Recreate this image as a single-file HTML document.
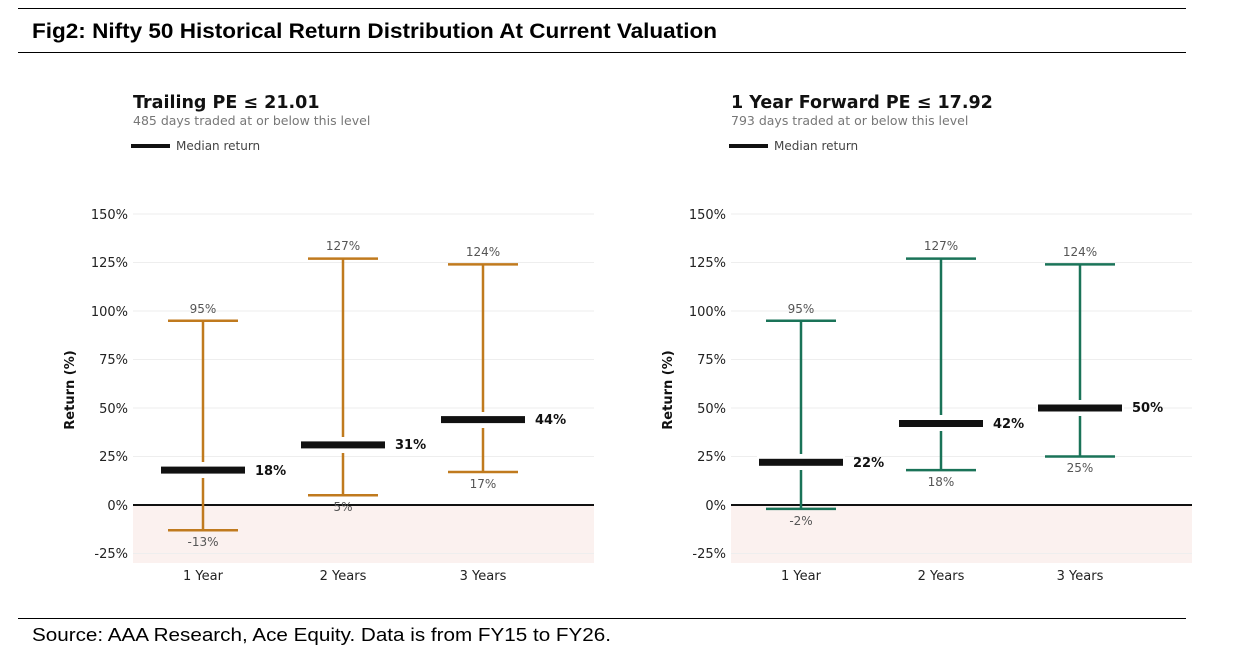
<!DOCTYPE html>
<html><head><meta charset="utf-8"><style>
html,body{margin:0;padding:0;background:#fff;}
svg{display:block;}
</style></head><body>
<svg width="1247" height="656" viewBox="0 0 1247 656" xmlns="http://www.w3.org/2000/svg">
<line x1="18" y1="8.5" x2="1186" y2="8.5" stroke="#000" stroke-width="1"/>
<line x1="18" y1="52.5" x2="1186" y2="52.5" stroke="#000" stroke-width="1"/>
<text x="32" y="38" font-family="Liberation Sans, sans-serif" font-weight="bold" font-size="21" fill="#000" textLength="685" lengthAdjust="spacingAndGlyphs">Fig2: Nifty 50 Historical Return Distribution At Current Valuation</text>
<line x1="18" y1="618.5" x2="1186" y2="618.5" stroke="#000" stroke-width="1"/>
<text x="32" y="641" font-family="Liberation Sans, sans-serif" font-size="18.5" fill="#000" textLength="579" lengthAdjust="spacingAndGlyphs">Source: AAA Research, Ace Equity. Data is from FY15 to FY26.</text>

<g font-family="DejaVu Sans, sans-serif">
<text x="133" y="108" font-size="17.5" font-weight="bold" fill="#111">Trailing PE ≤ 21.01</text>
<text x="133" y="125" font-size="12.5" fill="#777">485 days traded at or below this level</text>
<line x1="131" y1="146" x2="170" y2="146" stroke="#111" stroke-width="4"/>
<text x="176" y="150" font-size="12" fill="#444">Median return</text>
<rect x="133" y="505" width="461" height="58" fill="#fbf1ef"/>
<g stroke="#eeeeee" stroke-width="1">
<line x1="133" x2="594" y1="214" y2="214"/><line x1="133" x2="594" y1="262.5" y2="262.5"/>
<line x1="133" x2="594" y1="311" y2="311"/><line x1="133" x2="594" y1="359.5" y2="359.5"/>
<line x1="133" x2="594" y1="408" y2="408"/><line x1="133" x2="594" y1="456.5" y2="456.5"/>
<line x1="133" x2="594" y1="553.5" y2="553.5"/></g>
<line x1="133" x2="594" y1="505" y2="505" stroke="#111" stroke-width="2"/>
<g font-size="13" fill="#222" text-anchor="end">
<text x="128" y="219">150%</text><text x="128" y="267">125%</text><text x="128" y="316">100%</text>
<text x="128" y="364">75%</text><text x="128" y="413">50%</text><text x="128" y="461">25%</text>
<text x="128" y="510">0%</text><text x="128" y="558">-25%</text></g>
<text transform="translate(74,390) rotate(-90)" text-anchor="middle" font-size="13" font-weight="bold" fill="#111">Return (%)</text>
<g font-size="13" fill="#222" text-anchor="middle">
<text x="203" y="580">1 Year</text><text x="343" y="580">2 Years</text><text x="483" y="580">3 Years</text></g>
<g stroke="#c07a1e" stroke-width="2.5">
<line x1="203" x2="203" y1="320.7" y2="530.2"/><line x1="168" x2="238" y1="320.7" y2="320.7"/><line x1="168" x2="238" y1="530.2" y2="530.2"/>
<line x1="343" x2="343" y1="258.6" y2="495.3"/><line x1="308" x2="378" y1="258.6" y2="258.6"/><line x1="308" x2="378" y1="495.3" y2="495.3"/>
<line x1="483" x2="483" y1="264.4" y2="472"/><line x1="448" x2="518" y1="264.4" y2="264.4"/><line x1="448" x2="518" y1="472" y2="472"/>
</g>
<rect x="159" y="462" width="88" height="16" fill="#fff"/><rect x="161" y="466.6" width="84" height="7" fill="#111"/>
<rect x="299" y="437" width="88" height="16" fill="#fff"/><rect x="301" y="441.4" width="84" height="7" fill="#111"/>
<rect x="439" y="412" width="88" height="16" fill="#fff"/><rect x="441" y="416.1" width="84" height="7" fill="#111"/>
<g font-size="13" font-weight="bold" fill="#111">
<text x="255" y="475">18%</text><text x="395" y="449">31%</text><text x="535" y="424">44%</text></g>
<g font-size="12" fill="#555" text-anchor="middle">
<text x="203" y="313">95%</text><text x="203" y="546">-13%</text>
<text x="343" y="250">127%</text><text x="343" y="511">5%</text>
<text x="483" y="256">124%</text><text x="483" y="488">17%</text></g>
</g>

<g font-family="DejaVu Sans, sans-serif">
<text x="731" y="108" font-size="17.5" font-weight="bold" fill="#111">1 Year Forward PE ≤ 17.92</text>
<text x="731" y="125" font-size="12.5" fill="#777">793 days traded at or below this level</text>
<line x1="729" y1="146" x2="768" y2="146" stroke="#111" stroke-width="4"/>
<text x="774" y="150" font-size="12" fill="#444">Median return</text>
<rect x="731" y="505" width="461" height="58" fill="#fbf1ef"/>
<g stroke="#eeeeee" stroke-width="1">
<line x1="731" x2="1192" y1="214" y2="214"/><line x1="731" x2="1192" y1="262.5" y2="262.5"/>
<line x1="731" x2="1192" y1="311" y2="311"/><line x1="731" x2="1192" y1="359.5" y2="359.5"/>
<line x1="731" x2="1192" y1="408" y2="408"/><line x1="731" x2="1192" y1="456.5" y2="456.5"/>
<line x1="731" x2="1192" y1="553.5" y2="553.5"/></g>
<line x1="731" x2="1192" y1="505" y2="505" stroke="#111" stroke-width="2"/>
<g font-size="13" fill="#222" text-anchor="end">
<text x="726" y="219">150%</text><text x="726" y="267">125%</text><text x="726" y="316">100%</text>
<text x="726" y="364">75%</text><text x="726" y="413">50%</text><text x="726" y="461">25%</text>
<text x="726" y="510">0%</text><text x="726" y="558">-25%</text></g>
<text transform="translate(672,390) rotate(-90)" text-anchor="middle" font-size="13" font-weight="bold" fill="#111">Return (%)</text>
<g font-size="13" fill="#222" text-anchor="middle">
<text x="801" y="580">1 Year</text><text x="941" y="580">2 Years</text><text x="1080" y="580">3 Years</text></g>
<g stroke="#1a7358" stroke-width="2.5">
<line x1="801" x2="801" y1="320.7" y2="508.9"/><line x1="766" x2="836" y1="320.7" y2="320.7"/><line x1="766" x2="836" y1="508.9" y2="508.9"/>
<line x1="941" x2="941" y1="258.6" y2="470.1"/><line x1="906" x2="976" y1="258.6" y2="258.6"/><line x1="906" x2="976" y1="470.1" y2="470.1"/>
<line x1="1080" x2="1080" y1="264.4" y2="456.5"/><line x1="1045" x2="1115" y1="264.4" y2="264.4"/><line x1="1045" x2="1115" y1="456.5" y2="456.5"/>
</g>
<rect x="757" y="454" width="88" height="16" fill="#fff"/><rect x="759" y="458.8" width="84" height="7" fill="#111"/>
<rect x="897" y="415" width="88" height="16" fill="#fff"/><rect x="899" y="420" width="84" height="7" fill="#111"/>
<rect x="1036" y="400" width="88" height="16" fill="#fff"/><rect x="1038" y="404.5" width="84" height="7" fill="#111"/>
<g font-size="13" font-weight="bold" fill="#111">
<text x="853" y="467">22%</text><text x="993" y="428">42%</text><text x="1132" y="412">50%</text></g>
<g font-size="12" fill="#555" text-anchor="middle">
<text x="801" y="313">95%</text><text x="801" y="525">-2%</text>
<text x="941" y="250">127%</text><text x="941" y="486">18%</text>
<text x="1080" y="256">124%</text><text x="1080" y="472">25%</text></g>
</g>
</svg>
</body></html>
